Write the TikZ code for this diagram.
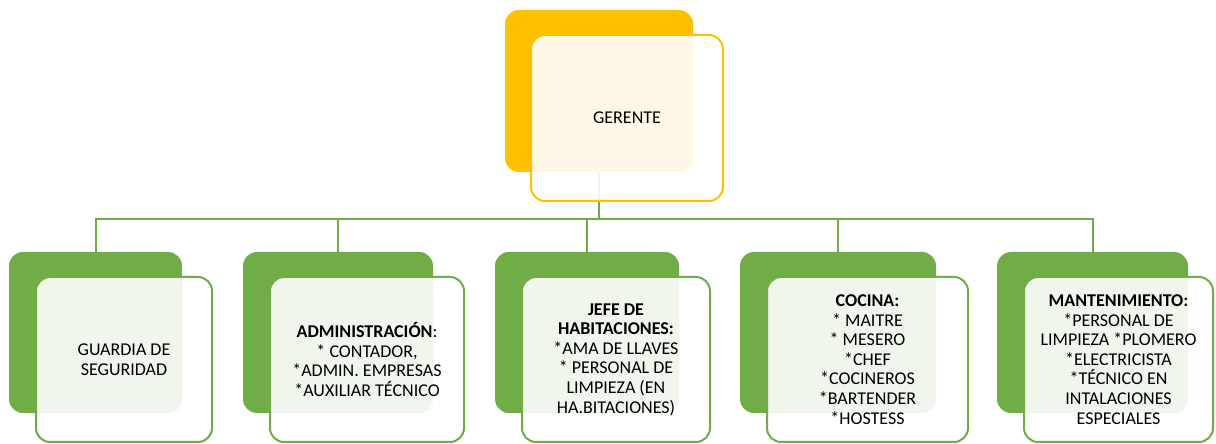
\documentclass[tikz,border=0pt]{standalone}
\usepackage{fontspec}
\setmainfont{Carlito}
\usetikzlibrary{positioning}
\definecolor{oro}{HTML}{FFC000}
\definecolor{verde}{HTML}{70AD47}

\begin{document}
\begin{tikzpicture}[x=1pt,y=1pt,
  fondo/.style={rounded corners=14pt,fill=#1,inner sep=0pt},
  caja/.style={rounded corners=14pt,draw=#1,line width=2pt,fill=white,fill opacity=0.9,
    text opacity=1,align=center,inner sep=0pt,font=\fontsize{18}{19.6}\selectfont},
  linea/.style={verde,line width=2pt}]
\useasboundingbox (0,0) rectangle (1216,444);
\node[fondo=oro,minimum width=188,minimum height=162] (gerb) at (599,353) {};
\node[fondo=verde,minimum width=173,minimum height=161] (g1b) at (95.5,111.5) {};
\node[fondo=verde,minimum width=190,minimum height=161] (g2b) at (338,111.5) {};
\node[fondo=verde,minimum width=184,minimum height=161] (g3b) at (587,111.5) {};
\node[fondo=verde,minimum width=196,minimum height=161] (g4b) at (838,111.5) {};
\node[fondo=verde,minimum width=191,minimum height=161] (g5b) at (1092.5,111.5) {};
\coordinate (bus) at (0,225);
\draw[linea] (gerb.south) -- (gerb.south |- bus);
\draw[linea] (g1b.north) -- (g1b.north |- bus) -- (g5b.north |- bus) -- (g5b.north);
\foreach \n in {g2b,g3b,g4b}
  \draw[linea] (\n.north |- bus) -- (\n.north);
\node[caja=oro,minimum width=192,minimum height=166] (ger) at (627,326) {GERENTE};
\node[caja=verde,minimum width=176,minimum height=165] (g1) at (124,84.5)
  {GUARDIA DE\\SEGURIDAD};
\node[caja=verde,minimum width=194,minimum height=165] (g2) at (367,84.5)
  {\textbf{ADMINISTRACIÓN}:\\{*} CONTADOR,\\{*}ADMIN. EMPRESAS\\{*}AUXILIAR TÉCNICO};
\node[caja=verde,minimum width=188,minimum height=165] (g3) at (616,84.5)
  {\textbf{JEFE DE}\\\textbf{HABITACIONES:}\\{*}AMA DE LLAVES\\{*} PERSONAL DE\\LIMPIEZA (EN\\HA.BITACIONES)};
\node[caja=verde,minimum width=201,minimum height=165] (g4) at (867.5,84.5)
  {\textbf{COCINA:}\\{*} MAITRE\\{*} MESERO\\{*}CHEF\\{*}COCINEROS\\{*}BARTENDER\\{*}HOSTESS};
\node[caja=verde,minimum width=189,minimum height=165] (g5) at (1118.5,84.5)
  {\textbf{MANTENIMIENTO:}\\{*}PERSONAL DE\\LIMPIEZA {*}PLOMERO\\{*}ELECTRICISTA\\{*}TÉCNICO EN\\INTALACIONES\\ESPECIALES};
\end{tikzpicture}
\end{document}
